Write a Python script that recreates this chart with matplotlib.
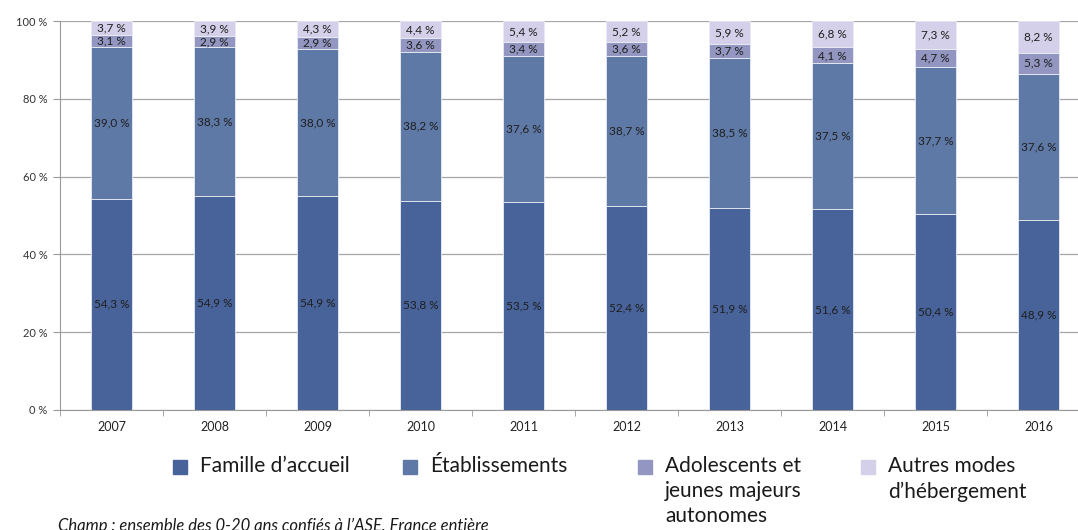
import matplotlib.pyplot as plt
from matplotlib.patches import Rectangle

plt.rcParams['font.family'] = ['Lato', 'DejaVu Sans']

annees = ['2007', '2008', '2009', '2010', '2011', '2012', '2013', '2014', '2015', '2016']
famille = [54.3, 54.9, 54.9, 53.8, 53.5, 52.4, 51.9, 51.6, 50.4, 48.9]
etablissements = [39.0, 38.3, 38.0, 38.2, 37.6, 38.7, 38.5, 37.5, 37.7, 37.6]
adolescents = [3.1, 2.9, 2.9, 3.6, 3.4, 3.6, 3.7, 4.1, 4.7, 5.3]
autres = [3.7, 3.9, 4.3, 4.4, 5.4, 5.2, 5.9, 6.8, 7.3, 8.2]

series = [famille, etablissements, adolescents, autres]
noms = ["Famille d\u2019accueil", "\u00c9tablissements",
        "Adolescents et\njeunes majeurs\nautonomes", "Autres modes\nd\u2019h\u00e9bergement"]
couleurs = ['#48639a', '#5f79a6', '#9396c0', '#d5d0e9']

fig = plt.figure(figsize=(10.78, 5.30), dpi=100)
ax = fig.add_axes([60 / 1078, 120 / 530, 1030 / 1078, 389 / 530])

x = list(range(len(annees)))
bas = [0] * len(annees)
for vals, c in zip(series, couleurs):
    ax.bar(x, vals, bottom=bas, width=0.4, color=c, edgecolor='#e8ecf4', linewidth=0.6, zorder=3)
    for i, v in enumerate(vals):
        ax.text(i, bas[i] + v / 2, f"{v:.1f} %".replace('.', ','), ha='center', va='center',
                fontsize=8.5, color='#1e1e1e', zorder=4)
    bas = [b + v for b, v in zip(bas, vals)]

ax.set_xlim(-0.5, 9.5)
ax.set_ylim(0, 100)
ax.set_yticks([0, 20, 40, 60, 80, 100])
ax.set_yticklabels([f"{t} %" for t in [0, 20, 40, 60, 80, 100]], fontsize=8, color='#333333')
ax.set_xticks(x)
ax.set_xticklabels(annees, fontsize=9, color='#222222')
ax.set_xticks([i - 0.5 for i in range(11)], minor=True)
ax.tick_params(axis='x', which='major', length=0, pad=8)
ax.tick_params(axis='x', which='minor', length=4, color='#999999')
ax.tick_params(axis='y', length=5, color='#999999', pad=4)
ax.grid(axis='y', color='#a6a6a6', linewidth=0.9, zorder=0)
for s in ['top', 'right']:
    ax.spines[s].set_visible(False)
for s in ['left', 'bottom']:
    ax.spines[s].set_color('#999999')

# légende
xs = [180, 410, 645, 868]
for xp, nom, c in zip(xs, noms, couleurs):
    fig.patches.append(Rectangle((xp / 1078 - 7 / 1078, (530 - 474) / 530), 14 / 1078, 14 / 530,
                                 transform=fig.transFigure, color=c))
    fig.text((xp + 20) / 1078, (530 - 456) / 530, nom, ha='left', va='top', fontsize=15,
             color='#1a1a1a', linespacing=1.32)

fig.text(58 / 1078, (530 - 518) / 530, "Champ : ensemble des 0-20 ans confi\u00e9s \u00e0 l\u2019ASE, France enti\u00e8re",
         ha='left', va='top', fontsize=12, style='italic', color='#1a1a1a')

fig.savefig('out.png', dpi=100)
